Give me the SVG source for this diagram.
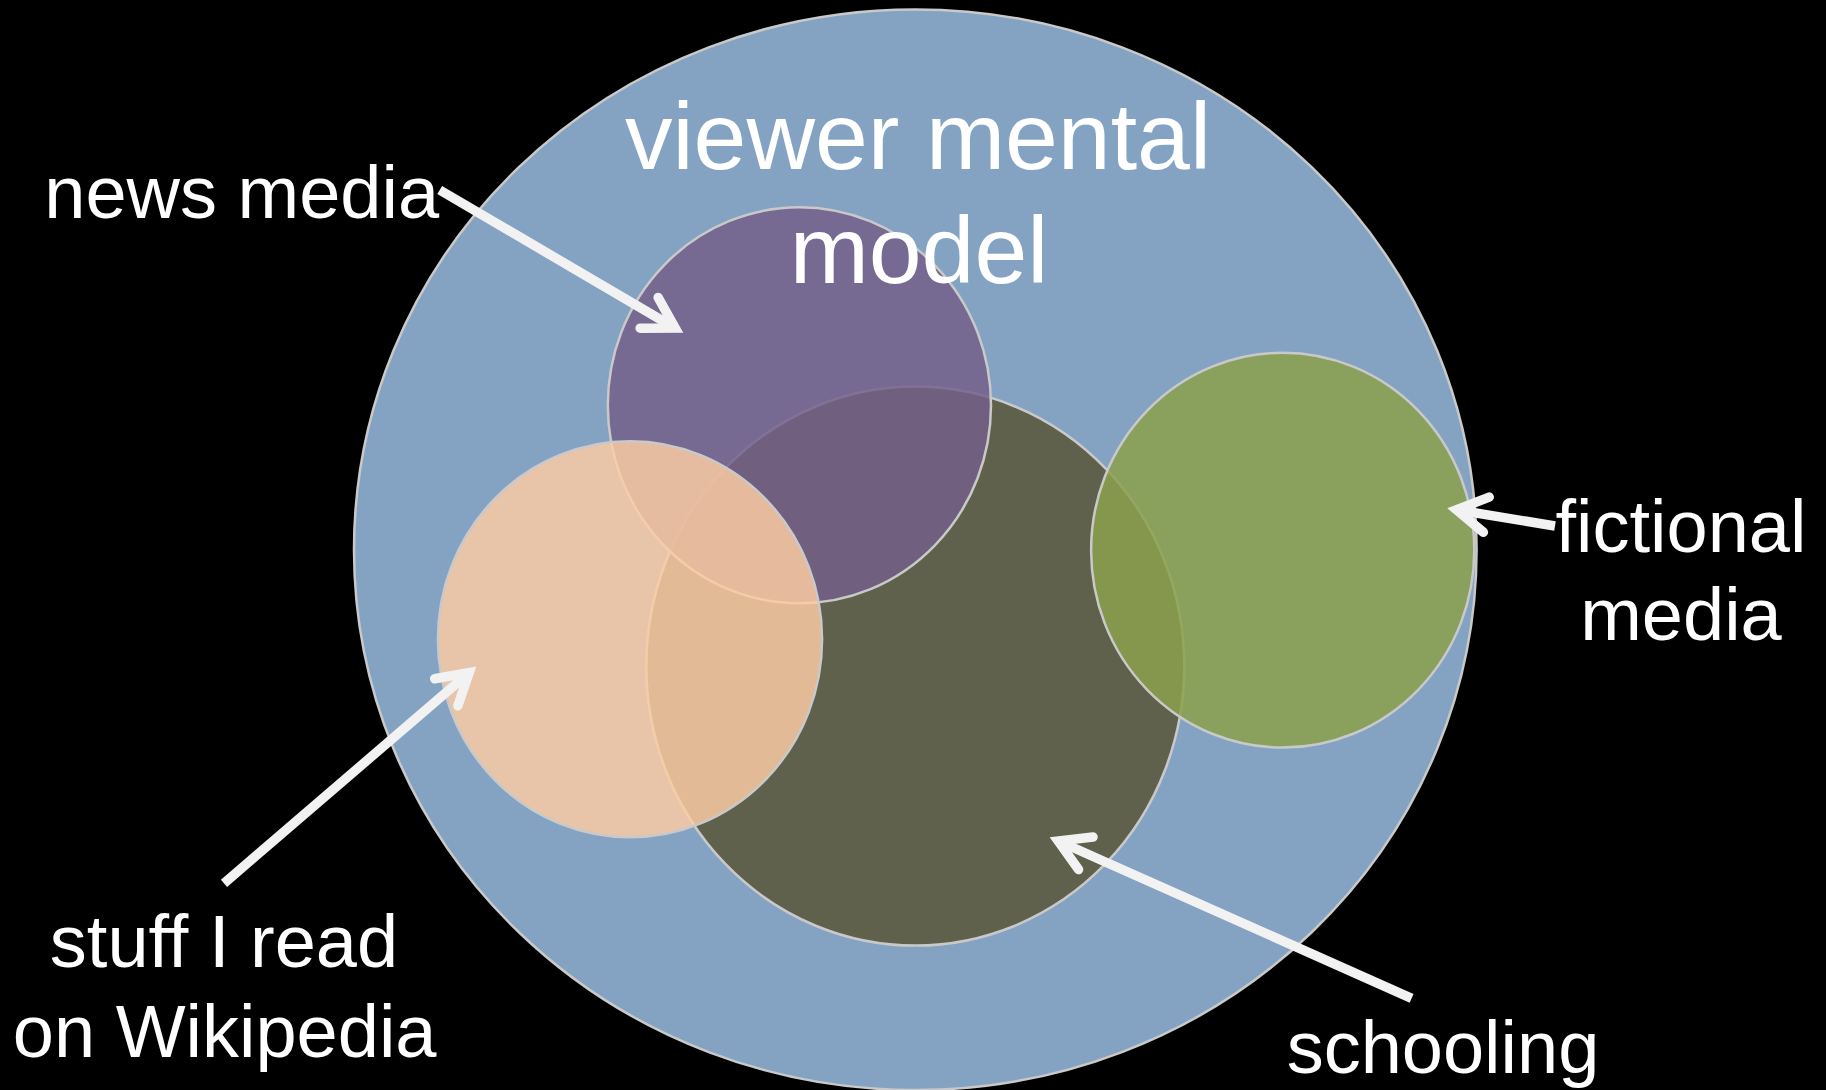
<svg xmlns="http://www.w3.org/2000/svg" width="1826" height="1090" viewBox="0 0 1826 1090">
  <style>
    .ring { stroke: #c9c9c9; stroke-width: 2.5; }
    .lbl { font-family: "Liberation Sans", Arial, sans-serif; font-size: 74px; fill: #ffffff; text-anchor: middle; }
    .title { font-size: 95px; }
    .conn { fill: none; stroke: #f2f2f2; stroke-width: 9.5; stroke-linecap: butt; }
  </style>
  <defs>
    <marker id="chev" markerUnits="userSpaceOnUse" orient="auto" refX="0" refY="0" markerWidth="1" markerHeight="1" overflow="visible">
      <polyline points="-30.2,-17.8 0,0 -30.2,17.8" fill="none" stroke="#f2f2f2" stroke-width="9.5" stroke-linecap="round" stroke-linejoin="miter"/>
    </marker>
  </defs>
  <rect x="0" y="0" width="1826" height="1090" fill="#000000"/>

  <g id="viewer-mental-model">
    <ellipse class="ring" cx="915.3" cy="549.7" rx="561.3" ry="540.3" fill="#84a2c2"/>
  </g>
  <g id="schooling">
    <ellipse class="ring" cx="915.3" cy="666.1" rx="269" ry="279.5" fill="#5b5a3f" fill-opacity="0.9"/>
    <text class="lbl" x="1443" y="1072.7">schooling</text>
  </g>
  <g id="news-media">
    <ellipse class="ring" cx="799.4" cy="405.3" rx="191.6" ry="198" fill="#745f89" fill-opacity="0.83"/>
    <text class="lbl" x="241.7" y="218.3">news media</text>
  </g>
  <g id="wikipedia">
    <ellipse class="ring" cx="630" cy="639.3" rx="192.1" ry="198" fill="#fccda3" fill-opacity="0.83"/>
    <text class="lbl" x="224" y="967.3">stuff I read</text>
    <text class="lbl" x="224.7" y="1057.3">on Wikipedia</text>
  </g>
  <g id="fictional-media">
    <ellipse class="ring" cx="1282.7" cy="550.2" rx="191.6" ry="197.4" fill="#8ba14c" fill-opacity="0.85"/>
    <text class="lbl" x="1681" y="551.7">fictional</text>
    <text class="lbl" x="1681" y="640">media</text>
  </g>

  <g id="title">
    <text class="lbl title" x="918" y="169.3">viewer mental</text>
    <text class="lbl title" x="919" y="282.7">model</text>
  </g>

  <g id="connectors">
    <path class="conn" d="M439.7,190 L675.2,328.1" marker-end="url(#chev)"/>
    <path class="conn" d="M224,883.3 L469.2,672.6" marker-end="url(#chev)"/>
    <path class="conn" d="M1555,526 L1456.5,509.8" marker-end="url(#chev)"/>
    <path class="conn" d="M1411.6,998.3 L1058.2,841" marker-end="url(#chev)"/>
  </g>
</svg>
